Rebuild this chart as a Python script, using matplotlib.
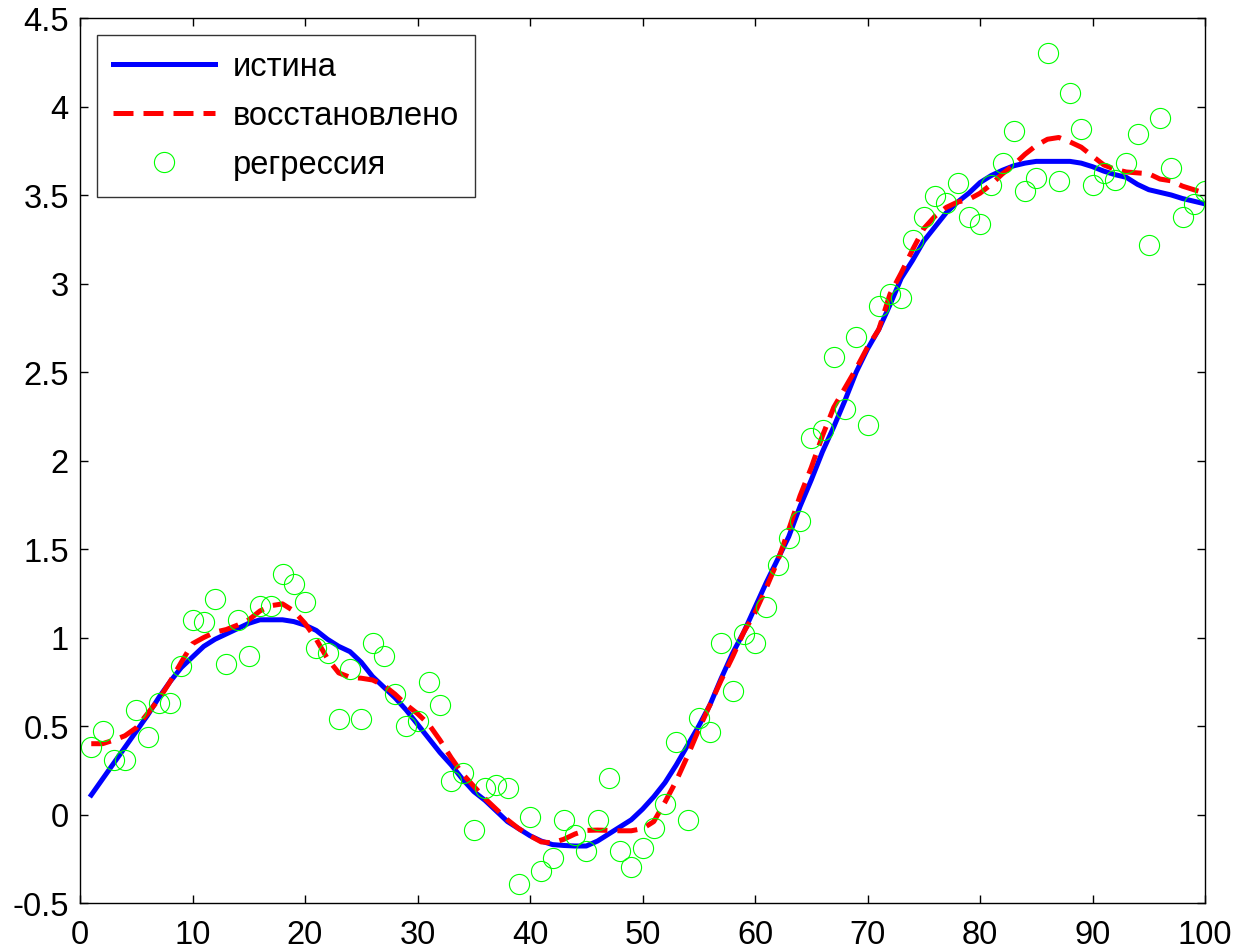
import matplotlib
matplotlib.use("Agg")
import matplotlib.pyplot as plt
import numpy as np

plt.rcParams['font.family'] = ['Liberation Sans', 'DejaVu Sans']

x = list(range(1, 101))

truth = [0.11, 0.20, 0.29, 0.38, 0.47, 0.56, 0.66, 0.75, 0.83, 0.89,
         0.95, 0.99, 1.02, 1.05, 1.08, 1.10, 1.10, 1.10, 1.09, 1.07,
         1.04, 0.99, 0.95, 0.92, 0.86, 0.78, 0.72, 0.66, 0.59, 0.51,
         0.43, 0.35, 0.28, 0.20, 0.13, 0.08, 0.02, -0.04, -0.08, -0.12,
         -0.15, -0.17, -0.175, -0.178, -0.178, -0.15, -0.11, -0.07, -0.03, 0.03,
         0.10, 0.18, 0.28, 0.39, 0.50, 0.62, 0.77, 0.91, 1.03, 1.17,
         1.31, 1.44, 1.57, 1.74, 1.89, 2.05, 2.19, 2.34, 2.50, 2.63,
         2.74, 2.88, 3.03, 3.13, 3.24, 3.32, 3.40, 3.46, 3.51, 3.57,
         3.61, 3.64, 3.665, 3.68, 3.69, 3.69, 3.69, 3.69, 3.68, 3.66,
         3.635, 3.615, 3.60, 3.56, 3.53, 3.515, 3.50, 3.48, 3.465, 3.45]

recovered = [0.40, 0.40, 0.42, 0.445, 0.49, 0.57, 0.65, 0.75, 0.86, 0.965,
             1.00, 1.03, 1.045, 1.07, 1.10, 1.15, 1.18, 1.19, 1.15, 1.08,
             0.99, 0.88, 0.80, 0.775, 0.77, 0.76, 0.73, 0.68, 0.62, 0.57,
             0.51, 0.42, 0.32, 0.23, 0.16, 0.09, 0.03, -0.03, -0.08, -0.12,
             -0.155, -0.16, -0.14, -0.11, -0.09, -0.088, -0.09, -0.092, -0.092, -0.08,
             -0.04, 0.07, 0.19, 0.33, 0.48, 0.62, 0.76, 0.89, 1.03, 1.14,
             1.28, 1.43, 1.61, 1.80, 1.96, 2.14, 2.30, 2.41, 2.52, 2.64,
             2.74, 2.94, 3.06, 3.19, 3.31, 3.38, 3.43, 3.46, 3.475, 3.51,
             3.56, 3.62, 3.67, 3.73, 3.78, 3.815, 3.825, 3.80, 3.77, 3.72,
             3.67, 3.645, 3.63, 3.625, 3.62, 3.59, 3.58, 3.55, 3.53, 3.51]

regression = [0.38, 0.47, 0.31, 0.31, 0.59, 0.44, 0.63, 0.63, 0.84, 1.10,
              1.09, 1.22, 0.85, 1.10, 0.895, 1.18, 1.18, 1.36, 1.30, 1.20,
              0.94, 0.91, 0.54, 0.82, 0.54, 0.97, 0.895, 0.68, 0.50, 0.53,
              0.75, 0.62, 0.19, 0.236, -0.087, 0.147, 0.164, 0.147, -0.394, -0.013,
              -0.32, -0.247, -0.03, -0.117, -0.206, -0.03, 0.206, -0.206, -0.296, -0.19,
              -0.074, 0.059, 0.41, -0.03, 0.544, 0.468, 0.967, 0.70, 1.017, 0.967,
              1.173, 1.41, 1.56, 1.657, 2.128, 2.17, 2.583, 2.29, 2.70, 2.20,
              2.874, 2.94, 2.92, 3.245, 3.375, 3.494, 3.452, 3.566, 3.375, 3.334,
              3.554, 3.683, 3.86, 3.522, 3.596, 4.30, 3.579, 4.079, 3.875, 3.554,
              3.626, 3.583, 3.683, 3.847, 3.215, 3.934, 3.655, 3.375, 3.451, 3.522]

labels = ['истина', 'восстановлено', 'регрессия']
xticks = list(range(0, 101, 10))
yticks = [-0.5, 0, 0.5, 1, 1.5, 2, 2.5, 3, 3.5, 4, 4.5]
ytick_labels = ['-0.5', '0', '0.5', '1', '1.5', '2', '2.5', '3', '3.5', '4', '4.5']

fig = plt.figure(figsize=(12.38, 9.53), dpi=100)
ax = fig.add_axes([80/1238, 49/953, 1125/1238, 885/953])

ax.plot(x, truth, color=(0, 0, 1), lw=3.6, label=labels[0])
ax.plot(x, recovered, color=(1, 0, 0), lw=3.6, dashes=(4.0, 2.0), label=labels[1])
ax.plot(x, regression, ls='none', marker='o', ms=14.5, mfc='none', mec=(0, 1, 0),
        mew=0.8, label=labels[2])

ax.set_xlim(0, 100)
ax.set_ylim(-0.5, 4.5)
ax.set_xticks(xticks)
ax.set_xticklabels([str(t) for t in xticks])
ax.set_yticks(yticks)
ax.set_yticklabels(ytick_labels)
ax.tick_params(direction='in', length=6, width=1, top=True, right=True,
               labelsize=23.5)
ax.tick_params(axis='x', pad=11.5)
ax.tick_params(axis='y', pad=8)
for s in ax.spines.values():
    s.set_linewidth(1)
    s.set_color('black')

leg = ax.legend(loc='upper left', bbox_to_anchor=(17/1125, 1 - 17/885),
                fontsize=23.5, frameon=True, fancybox=False, edgecolor='black',
                borderaxespad=0, handlelength=3.1, handletextpad=0.55,
                labelspacing=0.55, borderpad=0.5)
leg.get_frame().set_linewidth(1)

fig.savefig('out.png', dpi=100)
